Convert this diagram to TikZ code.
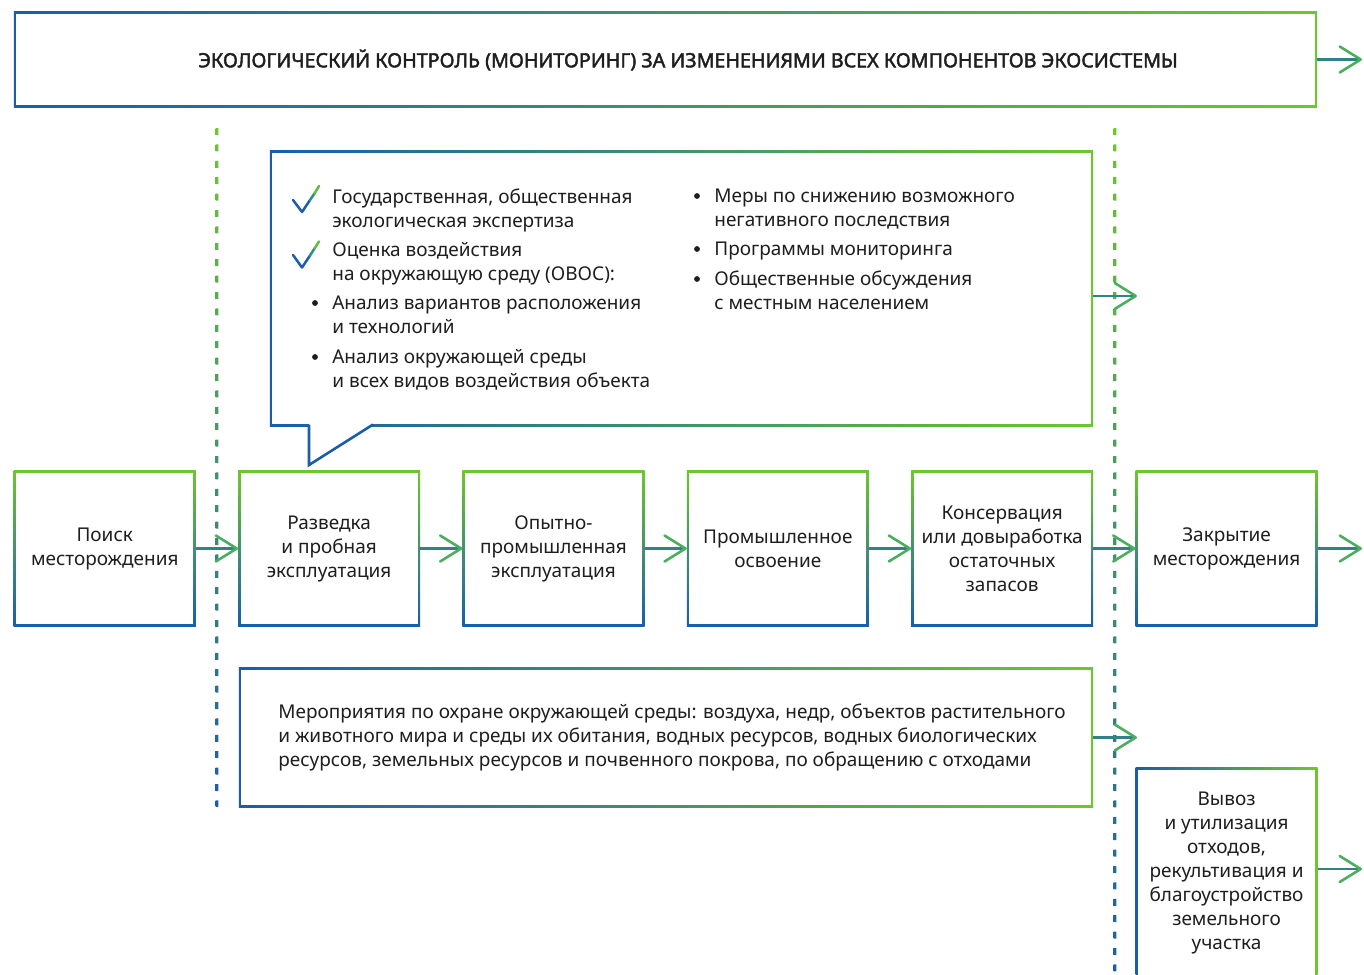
\documentclass[tikz,border=0pt]{standalone}
\usepackage{fontspec}
\setmainfont{Noto Sans}[AutoFakeBold=2.2]
\usetikzlibrary{arrows.meta,positioning,backgrounds}
\definecolor{ecoblue}{HTML}{1A5DAB}
\definecolor{ecogreen}{HTML}{6DC72B}
\definecolor{ecoteal}{HTML}{2F8C8A}
\definecolor{tipgreen}{HTML}{4BAE5E}
\definecolor{ink}{HTML}{1E1E1E}

% gradient frames behind the white boxes
\newcommand{\vframe}[1]{\shade[top color=ecogreen,bottom color=ecoblue] (#1.south west) rectangle (#1.north east);}
\newcommand{\hframe}[1]{\shade[left color=ecoblue,right color=ecogreen] (#1.south west) rectangle (#1.north east);}

\begin{document}
\begin{tikzpicture}[x=0.02cm, y=-0.02cm, font=\fontsize{10.8}{13.66}\selectfont, text=ink,
    stepbox/.style={fill=white, minimum width=3.538cm, minimum height=3.008cm,
      outer sep=0.052cm, inner sep=0pt, align=center},
    widebox/.style={fill=white, outer sep=0.052cm, inner sep=0pt},
    flow/.style={line width=0.052cm, draw=ecoblue!55!tipgreen,
      -{Straight Barb[length=0.42cm,width=0.52cm,round,color=tipgreen]}},
    tick/.style={line width=0.05cm, line cap=round, line join=round},
    entry/.style={anchor=base west, align=left, inner sep=0pt}]
  \useasboundingbox (0,0) rectangle (1364,974);

  % monitoring banner
  \node[widebox, minimum width=25.968cm, minimum height=1.808cm] (monitor) at (665.5,59.5) {};
  \node[font=\fontsize{11.2}{13.66}\selectfont\bfseries] (title) at (688,60)
    {ЭКОЛОГИЧЕСКИЙ КОНТРОЛЬ (МОНИТОРИНГ) ЗА ИЗМЕНЕНИЯМИ ВСЕХ КОМПОНЕНТОВ ЭКОСИСТЕМЫ};

  % stages
  \node[stepbox] (search) at (104.75,548.5) {Поиск\\месторождения};
  \node[stepbox, right=0.846cm of search] (explore) {Разведка\\и пробная\\эксплуатация};
  \node[stepbox, right=0.846cm of explore] (pilot) {Опытно-\\промышленная\\эксплуатация};
  \node[stepbox, right=0.846cm of pilot] (industrial) {Промышленное\\освоение};
  \node[stepbox, right=0.846cm of industrial] (conserve) {Консервация\\или довыработка\\остаточных\\запасов};
  \node[stepbox, right=0.846cm of conserve] (closure) {Закрытие\\месторождения};
  \node[stepbox, minimum height=4.108cm, below=2.828cm of closure] (removal)
    {Вывоз\\и утилизация\\отходов,\\рекультивация и\\благоустройство\\земельного\\участка};

  % callout with requirements
  \node[widebox, minimum width=16.368cm, minimum height=5.408cm] (callout) at (681.5,288.5) {};
  \fill[white] (309,421) -- (309,465) -- (372,425) -- (372,421) -- cycle;
  \draw[line width=0.052cm, ecoblue] (309,424.5) -- (309,465) -- (373,424.5);

  \draw[tick, ecoblue] (293,200) -- (302,212) -- (310,200);
  \draw[tick, ecoteal] (310,200) -- (314.5,193.5);
  \draw[tick, ecogreen!80!ecoteal] (314.5,193.5) -- (319,186);
  \draw[tick, ecoblue] (293,255) -- (302,267.5) -- (310,255.5);
  \draw[tick, ecoteal] (310,255.5) -- (314.5,248.5);
  \draw[tick, ecogreen!80!ecoteal] (314.5,248.5) -- (319,241.5);
  \node[entry] (expert) at (332,227) {Государственная, общественная\\экологическая экспертиза};
  \node[entry] (ovos) at (332,280) {Оценка воздействия\\на окружающую среду (ОВОС):};
  \node[entry] (variants) at (332,333) {Анализ вариантов расположения\\и технологий};
  \node[entry] (impact) at (332,387) {Анализ окружающей среды\\и всех видов воздействия объекта};
  \node[entry] (mitigate) at (714,226) {Меры по снижению возможного\\негативного последствия};
  \node[entry] (programs) at (714,255) {Программы мониторинга};
  \node[entry] (hearings) at (714,309) {Общественные обсуждения\\с местным населением};
  \foreach \bx/\by in {315/303, 315/357, 697/196, 697/249, 697/279}
    \fill[ink] (\bx,\by) circle (2.9);

  % protection measures
  \node[widebox, minimum width=16.988cm, minimum height=2.688cm] (measures) at (666,737.5) {};
  \node[anchor=west, align=left, inner sep=0pt] (measurestext) at (278,737.5)
    {Мероприятия по охране окружающей среды: воздуха, недр, объектов растительного\\
     и животного мира и среды их обитания, водных ресурсов, водных биологических\\
     ресурсов, земельных ресурсов и почвенного покрова, по обращению с отходами};

  \begin{scope}[on background layer]
    \hframe{monitor}
    \hframe{callout}
    \hframe{measures}
    \hframe{removal}
    \foreach \n in {search,explore,pilot,industrial,conserve,closure} {\vframe{\n}}
  \end{scope}

  % dashed separators
  \begin{scope}
    \clip \foreach \yy in {128,144.4,...,806} {(215.7,\yy) rectangle (218.3,\yy+7)};
    \shade[top color=ecogreen, bottom color=ecoblue] (215,128) rectangle (219,806);
  \end{scope}
  \begin{scope}
    \clip \foreach \yy in {128,144.4,...,974} {(1113.7,\yy) rectangle (1116.3,\yy+7)};
    \shade[top color=ecogreen, bottom color=ecoblue] (1113,128) rectangle (1117,974);
  \end{scope}

  % connectors
  \coordinate (monitorout) at (1362,59.5);
  \coordinate (calloutout) at (1137,296);
  \coordinate (measuresout) at (1137,737.5);
  \coordinate (closureout) at (1362,548.5);
  \coordinate (removalout) at (1362,869);
  \draw[flow] (monitor.east) -- (monitorout);
  \draw[flow] (search) -- (explore);
  \draw[flow] (explore) -- (pilot);
  \draw[flow] (pilot) -- (industrial);
  \draw[flow] (industrial) -- (conserve);
  \draw[flow] (conserve) -- (closure);
  \draw[flow] (closure) -- (closureout);
  \draw[flow] (callout.east |- calloutout) -- (calloutout);
  \draw[flow] (measures.east) -- (measuresout);
  \draw[flow] (removal.east |- removalout) -- (removalout);
\end{tikzpicture}
\end{document}
